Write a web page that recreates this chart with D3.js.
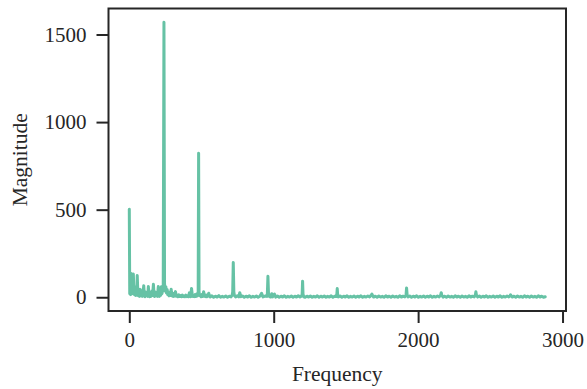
<!DOCTYPE html>
<html>
<head>
<meta charset="utf-8">
<script src="https://cdn.jsdelivr.net/npm/d3@7"></script>
<style>
  body { margin: 0; background: #fff; }
  svg { display: block; }
</style>
</head>
<body>
<div id="chart"></div>
<script>
// [frequency, magnitude]
const lowBand = [
    [0, 502], [3, 20], [6, 60], [9, 15], [13, 135], [17, 30], [21, 95], [25, 20],
    [28, 133], [32, 40], [36, 15], [40, 60], [44, 10], [48, 40], [52, 15], [55, 124],
    [59, 30], [63, 8], [67, 35], [71, 5], [76, 45], [80, 10], [85, 30], [90, 5],
    [95, 25], [100, 66], [104, 15], [108, 3], [113, 30], [118, 8], [123, 20], [128, 5],
    [132, 61], [136, 15], [140, 3], [146, 25], [151, 5], [156, 35], [161, 10], [167, 74],
    [171, 20], [175, 4], [180, 30], [185, 8], [190, 20], [195, 5], [201, 61], [205, 20],
    [209, 5], [214, 35], [218, 12], [222, 60], [226, 20], [231, 40], [235, 70]
];

const harmonicBand = [
    [240, 1570], [244, 80], [248, 35], [253, 60], [257, 25], [262, 45], [266, 15], [271, 30],
    [276, 8], [281, 25], [285, 10], [290, 46], [294, 12], [299, 6], [304, 22], [309, 5],
    [315, 15], [320, 32], [325, 6], [331, 12], [337, 3], [343, 14], [349, 4], [355, 10],
    [361, 3], [367, 12], [373, 4], [379, 8], [385, 3], [392, 12], [398, 4], [404, 9],
    [410, 3], [416, 25], [420, 12], [425, 3], [431, 50], [436, 15], [441, 5], [446, 10],
    [451, 4], [456, 15], [462, 5], [468, 20], [473, 8], [477, 30], [480, 822], [483, 30],
    [487, 10], [492, 8], [497, 3], [503, 15], [509, 5], [515, 32], [520, 8], [526, 4],
    [532, 12], [538, 3], [544, 10], [550, 23], [556, 4]
];

const highBand = [
    [560, 2], [572, 8], [584, 0], [596, 6], [608, 1], [620, 9], [632, 0], [644, 5],
    [656, 1], [668, 7], [680, 0], [692, 6], [704, 2], [712, 12], [716, 30], [720, 198],
    [724, 30], [728, 10], [736, 2], [748, 8], [758, 2], [765, 26], [772, 3], [784, 7],
    [796, 0], [808, 6], [820, 1], [832, 8], [844, 0], [856, 5], [868, 1], [880, 7],
    [892, 0], [904, 6], [916, 23], [926, 2], [940, 7], [952, 5], [956, 20], [960, 120],
    [964, 18], [970, 4], [980, 1], [986, 20], [992, 2], [1005, 18], [1014, 1], [1026, 7],
    [1038, 0], [1050, 6], [1062, 1], [1074, 8], [1086, 0], [1098, 5], [1110, 1], [1122, 7],
    [1134, 0], [1146, 6], [1158, 1], [1170, 8], [1182, 2], [1194, 8], [1197, 20], [1200, 92],
    [1203, 18], [1208, 3], [1218, 0], [1230, 6], [1242, 1], [1254, 7], [1266, 0], [1278, 5],
    [1290, 1], [1302, 8], [1314, 0], [1326, 6], [1338, 1], [1350, 7], [1362, 0], [1374, 5],
    [1386, 1], [1398, 8], [1410, 0], [1422, 6], [1434, 4], [1437, 15], [1440, 50], [1443, 14],
    [1448, 2], [1460, 7], [1472, 0], [1484, 6], [1496, 1], [1508, 8], [1520, 0], [1532, 5],
    [1544, 1], [1556, 7], [1568, 0], [1580, 6], [1592, 1], [1604, 8], [1616, 0], [1628, 5],
    [1640, 1], [1652, 7], [1664, 2], [1676, 12], [1680, 18], [1684, 10], [1692, 1], [1704, 6],
    [1716, 0], [1728, 7], [1740, 1], [1752, 5], [1764, 0], [1776, 8], [1788, 1], [1800, 6],
    [1812, 0], [1824, 7], [1836, 1], [1848, 5], [1860, 0], [1872, 8], [1884, 1], [1896, 6],
    [1908, 2], [1916, 10], [1920, 53], [1924, 12], [1930, 2], [1942, 7], [1954, 0], [1966, 6],
    [1978, 1], [1990, 8], [2002, 0], [2014, 5], [2026, 1], [2038, 7], [2050, 0], [2062, 6],
    [2074, 1], [2086, 8], [2098, 0], [2110, 5], [2122, 1], [2134, 7], [2146, 2], [2156, 12],
    [2160, 26], [2164, 12], [2172, 1], [2184, 6], [2196, 0], [2208, 7], [2220, 1], [2232, 5],
    [2244, 0], [2256, 8], [2268, 1], [2280, 6], [2292, 0], [2304, 7], [2316, 1], [2328, 5],
    [2340, 0], [2352, 8], [2364, 1], [2376, 6], [2388, 2], [2396, 12], [2400, 31], [2404, 12],
    [2412, 1], [2424, 7], [2436, 0], [2448, 6], [2460, 1], [2472, 8], [2484, 0], [2496, 5],
    [2508, 1], [2520, 7], [2532, 0], [2544, 6], [2556, 1], [2568, 8], [2580, 0], [2592, 5],
    [2604, 1], [2616, 7], [2628, 2], [2636, 8], [2640, 14], [2644, 8], [2652, 1], [2664, 6],
    [2676, 0], [2688, 7], [2700, 1], [2712, 5], [2724, 0], [2736, 8], [2748, 1], [2760, 6],
    [2772, 0], [2784, 7], [2796, 1], [2808, 5], [2820, 0], [2832, 8], [2844, 1], [2856, 6],
    [2868, 0], [2880, 3]
];

const xTicks = [0, 1000, 2000, 3000];
const yTicks = [0, 500, 1000, 1500];

const spectrum = lowBand.concat(harmonicBand, highBand);

const svgWidth = 587, svgHeight = 389;
const box = {left: 108.5, right: 566, top: 8.5, bottom: 311};
const ink = "#262626";
const font = "'Liberation Serif', 'Times New Roman', serif";

const svg = d3.select("#chart")
    .append("svg")
        .attr("width", svgWidth)
        .attr("height", svgHeight);

// matplotlib-style 5% margins around the data
const pad = ([lo, hi]) => [lo - (hi - lo) * 0.05, hi + (hi - lo) * 0.05];

const x = d3.scaleLinear()
    .domain(pad(d3.extent(spectrum, d => d[0])))
    .range([box.left, box.right]);

const y = d3.scaleLinear()
    .domain(pad(d3.extent(spectrum, d => d[1])))
    .range([box.bottom, box.top]);

const line = d3.line()
    .x(d => x(d[0]))
    .y(d => y(d[1]));

svg.append("path")
    .datum(spectrum)
    .attr("d", line)
    .attr("fill", "none")
    .attr("stroke", "#66c2a5")
    .attr("stroke-width", 3)
    .attr("stroke-linejoin", "round")
    .attr("stroke-linecap", "round");

// frame
svg.append("rect")
    .attr("x", box.left)
    .attr("y", box.top)
    .attr("width", box.right - box.left)
    .attr("height", box.bottom - box.top)
    .attr("fill", "none")
    .attr("stroke", ink)
    .attr("stroke-width", 2);

const xAxis = svg.append("g")
    .attr("transform", "translate(0," + box.bottom + ")")
    .call(d3.axisBottom(x).tickValues(xTicks).tickSize(12).tickPadding(9).tickFormat(d3.format("d")));

const yAxis = svg.append("g")
    .attr("transform", "translate(" + box.left + ",0)")
    .call(d3.axisLeft(y).tickValues(yTicks).tickSize(12).tickPadding(10).tickFormat(d3.format("d")));

[xAxis, yAxis].forEach(a => {
    a.select(".domain").remove();
    a.selectAll(".tick line").attr("stroke", ink).attr("stroke-width", 2);
    a.selectAll(".tick text")
        .attr("fill", ink)
        .style("font-family", font)
        .style("font-size", "21px");
});

svg.append("text")
    .attr("x", (box.left + box.right) / 2)
    .attr("y", 381)
    .attr("text-anchor", "middle")
    .attr("fill", ink)
    .style("font-family", font)
    .style("font-size", "21.5px")
    .text("Frequency");

svg.append("text")
    .attr("transform", "translate(27," + (box.top + box.bottom) / 2 + ") rotate(-90)")
    .attr("text-anchor", "middle")
    .attr("fill", ink)
    .style("font-family", font)
    .style("font-size", "21.5px")
    .text("Magnitude");
</script>
</body>
</html>
